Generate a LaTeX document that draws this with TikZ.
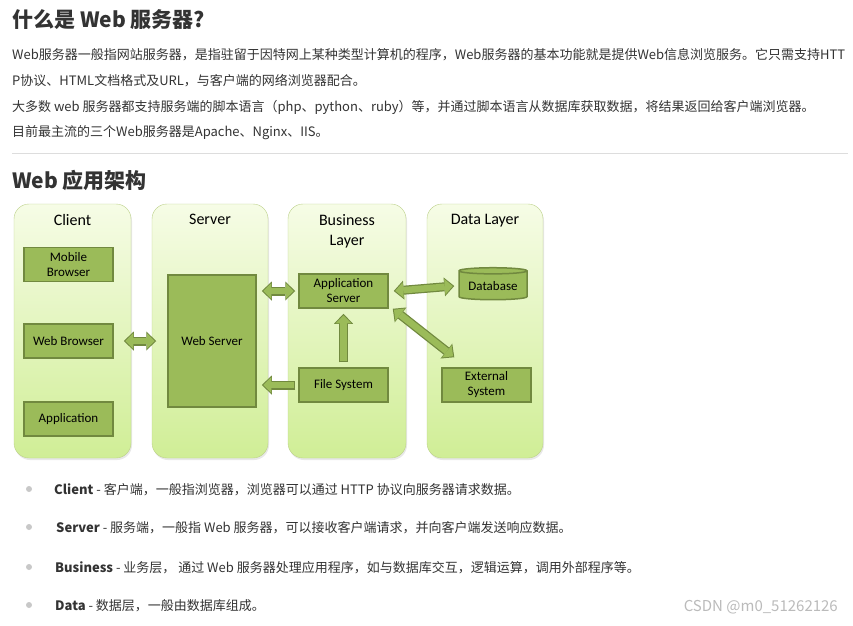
\documentclass[tikz,border=0pt]{standalone}
\usepackage{fontspec}
\setmainfont{Carlito}
\newfontfamily\cjk{Noto Sans CJK SC}
\usetikzlibrary{positioning,calc,arrows.meta,shapes.geometric,shadows}

\definecolor{boxfill}{HTML}{9BBB59}
\definecolor{boxline}{HTML}{71893F}
\definecolor{paneltop}{HTML}{F6FCE6}
\definecolor{panelbot}{HTML}{D0EE96}
\definecolor{panelline}{HTML}{BCD189}
\definecolor{txt}{HTML}{333333}
\definecolor{rulegray}{HTML}{DDDDDD}
\definecolor{dotgray}{HTML}{C8C8C8}
\definecolor{markgray}{HTML}{BBBBBB}

\tikzset{
  panel/.style={draw=panelline, rounded corners=15pt, top color=paneltop, bottom color=panelbot,
    minimum width=117, minimum height=254,
    drop shadow={shadow xshift=1pt, shadow yshift=-2pt, opacity=0.18}},
  ptitle/.style={font=\fontsize{16}{20}\selectfont, align=center, inner sep=0pt},
  item/.style={draw=boxline, line width=1.5pt, fill=boxfill, minimum width=89, minimum height=34,
    align=center, inner sep=1pt, font=\fontsize{13}{15}\selectfont},
  para/.style={anchor=west, inner sep=0pt, text=txt, font=\cjk\fontsize{13}{15}\selectfont},
  heading/.style={anchor=west, inner sep=0pt, text=txt, font=\cjk\bfseries\fontsize{21}{24}\selectfont},
  dbl/.style={line width=9pt, draw=boxline,
    {Triangle[length=10pt,width=19pt,line width=0pt 0 0]}-{Triangle[length=10pt,width=19pt,line width=0pt 0 0]},
    postaction={draw=boxfill, line width=6.5pt, shorten <=1.5pt, shorten >=1.5pt,
      {Triangle[length=8pt,width=15.5pt,line width=0pt 0 0]}-{Triangle[length=8pt,width=15.5pt,line width=0pt 0 0]}}},
  sgl/.style={line width=9pt, draw=boxline,
    -{Triangle[length=10pt,width=19pt,line width=0pt 0 0]},
    postaction={draw=boxfill, line width=6.5pt, shorten <=1pt, shorten >=1.5pt,
      -{Triangle[length=8pt,width=15.5pt,line width=0pt 0 0]}}}
}

\begin{document}
\begin{tikzpicture}[x=1pt, y=-1pt]
  \fill[white] (0,0) rectangle (853,625);
  \useasboundingbox (0,0) rectangle (853,625);

  % page text
  \node[heading] (title) at (12,20) {什么是 Web 服务器?};
  \node[para] (l1) at (12,55) {Web服务器一般指网站服务器，是指驻留于因特网上某种类型计算机的程序，Web服务器的基本功能就是提供Web信息浏览服务。它只需支持HTT};
  \node[para] (l2) at (12,81) {P协议、HTML文档格式及URL，与客户端的网络浏览器配合。};
  \node[para] (l3) at (12,107) {大多数 web 服务器都支持服务端的脚本语言（php、python、ruby）等，并通过脚本语言从数据库获取数据，将结果返回给客户端浏览器。};
  \node[para] (l4) at (12,133) {目前最主流的三个Web服务器是Apache、Nginx、IIS。};
  \draw[rulegray] (12,153) -- (848,153);
  \node[heading] (arch) at (12,180) {Web 应用架构};

  % layers
  \node[panel] (client) at (72.5,331) {};
  \node[panel, minimum width=116] (server) at (210,331) {};
  \node[panel, minimum width=118] (business) at (347,331) {};
  \node[panel, minimum width=116] (data) at (485,331) {};
  \node[ptitle, below=10pt of client.north] {Client};
  \node[ptitle, below=10pt of server.north] {Server};
  \node[ptitle, below=10pt of business.north] {Business\\Layer};
  \node[ptitle, below=10pt of data.north] {Data Layer};

  \node[item] (mb) at (68.5,264.5) {Mobile\\Browser};
  \node[item] (wb) at (68.5,341) {Web Browser};
  \node[item] (app) at (68.5,419) {Application};
  \node[item, minimum width=88, minimum height=132] (ws) at (212,341) {Web Server};
  \node[item] (as) at (343.5,291) {Application\\Server};
  \node[item] (fs) at (343.5,385) {File System};
  \node[item, cylinder, shape border rotate=90, aspect=0.12, minimum width=68, minimum height=32,
    cylinder uses custom fill, cylinder body fill=boxfill, cylinder end fill=boxfill!60!white] (db) at (493,286) {Database};
  \node[item] (ext) at (486.5,385) {External\\System};

  % arrows
  \draw[dbl] ([xshift=10pt]wb.east) -- ([xshift=-11pt]ws.west);
  \draw[dbl] ($(as.west -| ws.east)+(5,0)$) -- ([xshift=-3pt]as.west);
  \draw[sgl] ([xshift=-3pt]fs.west) -- ($(fs.west -| ws.east)+(5,0)$);
  \draw[sgl] ([yshift=5pt]fs.north) -- ([yshift=-5pt]as.south);
  \draw[dbl] ([xshift=5pt]as.east) -- ([xshift=-4pt]db.west);
  \draw[dbl] ([xshift=4pt]as.south east) -- ($(ext.north west)+(13,-10)$);

  % list
  \foreach \yy in {489,527,567,605}
    \fill[dotgray] (29,\yy) circle (3);
  \node[para] (c1) at (54,490) {\textbf{Client} - 客户端，一般指浏览器，浏览器可以通过 HTTP 协议向服务器请求数据。};
  \node[para] (c2) at (56,528) {\textbf{Server} - 服务端，一般指 Web 服务器，可以接收客户端请求，并向客户端发送响应数据。};
  \node[para] (c3) at (55,568) {\textbf{Business} - 业务层， 通过 Web 服务器处理应用程序，如与数据库交互，逻辑运算，调用外部程序等。};
  \node[para] (c4) at (55,606) {\textbf{Data} - 数据层，一般由数据库组成。};
  \node[anchor=east, inner sep=0pt, text=markgray, font=\cjk\fontsize{15}{17}\selectfont] (mark) at (838,607) {CSDN @m0\_51262126};
\end{tikzpicture}
\end{document}
